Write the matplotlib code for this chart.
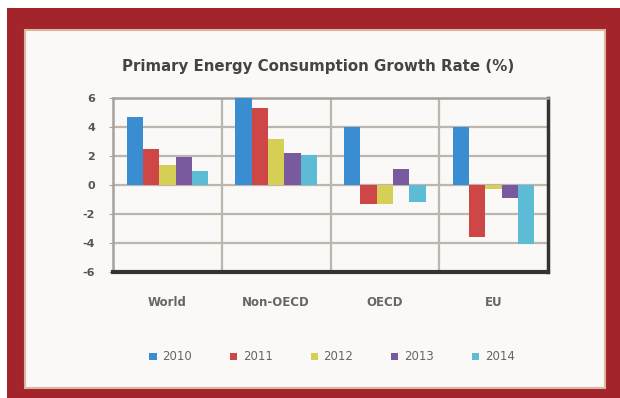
import numpy as np
import matplotlib
matplotlib.use("Agg")
import matplotlib.pyplot as plt
from matplotlib.patches import Rectangle

# data
regions = ["World", "Non-OECD", "OECD", "EU"]
years = ["2010", "2011", "2012", "2013", "2014"]
g2010 = [4.7, 6.1, 4.0, 4.0]
g2011 = [2.5, 5.3, -1.3, -3.6]
g2012 = [1.4, 3.2, -1.3, -0.3]
g2013 = [1.9, 2.2, 1.1, -0.9]
g2014 = [1.0, 2.1, -1.2, -4.1]
series = [g2010, g2011, g2012, g2013, g2014]
colors = ["#3a8dd0", "#cf4646", "#d6cf55", "#7a5a9e", "#5cbcd6"]

fig = plt.figure(figsize=(6.2, 3.98), dpi=100)
fig.patch.set_facecolor("white")

# dark red frame round the picture
fig.patches.append(Rectangle((7/620, 0), 613/620, 1 - 8/398, transform=fig.transFigure,
                             facecolor="#a3242b", edgecolor="none", zorder=0))
fig.patches.append(Rectangle((25/620, 10/398), 580/620, 1 - 40/398, transform=fig.transFigure,
                             facecolor="#faf9f7", edgecolor="#d9b8a0", linewidth=1.5, zorder=1))

ax = fig.add_axes([113/620, 1 - 272/398, 435/620, 174/398])
ax.set_zorder(3)
ax.set_facecolor("none")

x = np.arange(len(regions))
w = 0.15
for i, (vals, c, lab) in enumerate(zip(series, colors, years)):
    ax.bar(x + (i - 2) * w, vals, width=w, color=c, label=lab, zorder=3)

ax.set_xlim(-0.5, len(regions) - 0.5)
ax.set_ylim(-6, 6)
ax.set_yticks(np.arange(-6, 7, 2))
ax.set_yticklabels([str(v) for v in range(-6, 7, 2)], fontsize=8, fontweight="bold", color="#555555")
ax.set_xticks(x)
ax.set_xticklabels(regions, fontsize=8.5, fontweight="bold", color="#666666")
ax.tick_params(axis="x", length=0, pad=17)
ax.tick_params(axis="y", length=3, color="#aaa39c", pad=10)

for v in range(-4, 7, 2):
    ax.axhline(v, color="#bdb5ae", linewidth=1.6, zorder=1)
for b in [0.5, 1.5, 2.5]:
    ax.axvline(b, color="#bdb5ae", linewidth=1.6, zorder=1)

for s in ["top", "left"]:
    ax.spines[s].set_color("#a8a09a")
    ax.spines[s].set_linewidth(1.8)
ax.spines["right"].set_color("#333333")
ax.spines["right"].set_linewidth(2.5)
ax.spines["bottom"].set_color("#333333")
ax.spines["bottom"].set_linewidth(3)

fig.text(318/620, 1 - 67/398, "Primary Energy Consumption Growth Rate (%)",
         ha="center", va="center", fontsize=10.8, fontweight="bold", color="#444444")

leg = fig.legend(loc="center", bbox_to_anchor=(332/620, 1 - 357/398), ncol=5, frameon=False,
                 fontsize=8.5, handlelength=0.6, handleheight=0.6, columnspacing=3.2,
                 handletextpad=0.5, labelcolor="#666666")
leg.set_zorder(4)

fig.savefig("out.png", dpi=100)
